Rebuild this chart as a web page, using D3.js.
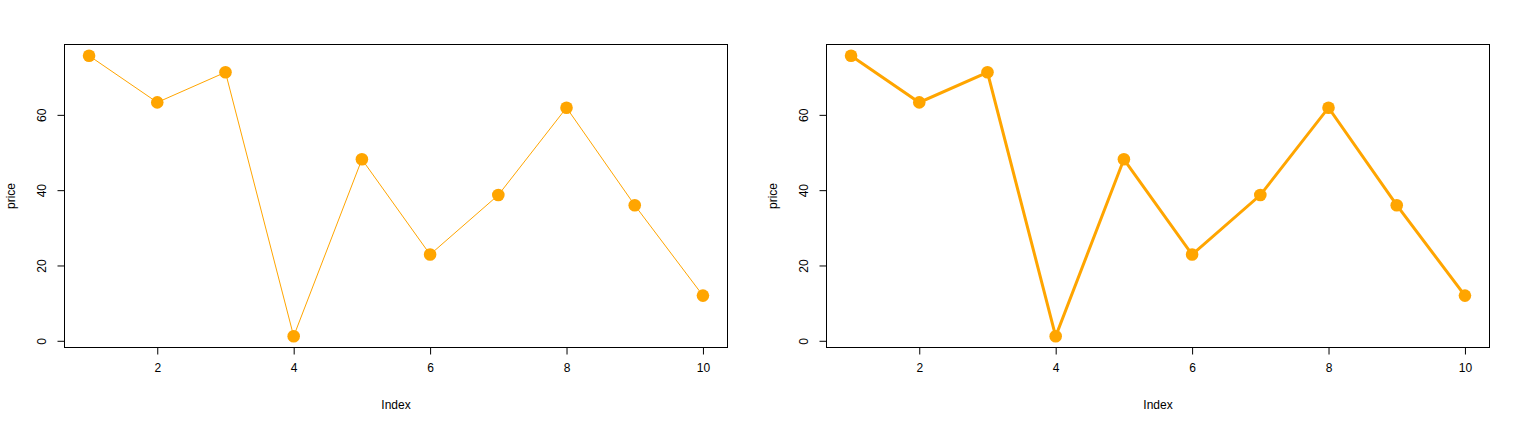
<!DOCTYPE html>
<html>
<head>
<meta charset="utf-8">
<script src="https://cdn.jsdelivr.net/npm/d3@7"></script>
<style>
  body { margin: 0; background: #fff; }
  text { font-family: "Liberation Sans", Arial, sans-serif; font-size: 12px; fill: #000; }
</style>
</head>
<body>
<div id="container"></div>
<script>
/* CONSTANTS AND GLOBALS */
const width = 1523;
const height = 448;

// data
const index = [1, 2, 3, 4, 5, 6, 7, 8, 9, 10];
const price = [75.7, 63.3, 71.3, 1.2, 48.2, 22.9, 38.7, 61.9, 36.0, 12.0];
const xTicks = [2, 4, 6, 8, 10];
const yTicks = [0, 20, 40, 60];

// two panels: thin line on left, thick line on right
const panels = [
  { left: 64.5, right: 727.5, lineWidth: 1 },
  { left: 826.5, right: 1489.5, lineWidth: 3 }
];
const plotTop = 44.5, plotBottom = 347.5;

const svg = d3.select("#container")
  .append("svg")
  .attr("width", width)
  .attr("height", height);

// R style 4% axis extension
function pad(ext) {
  const r = ext[1] - ext[0];
  return [ext[0] - 0.04 * r, ext[1] + 0.04 * r];
}

panels.forEach(p => {
  const g = svg.append("g");

  const xScale = d3.scaleLinear()
    .domain(pad(d3.extent(index)))
    .range([p.left, p.right]);

  const yScale = d3.scaleLinear()
    .domain(pad(d3.extent(price)))
    .range([plotBottom, plotTop]);

  // box
  g.append("rect")
    .attr("x", p.left).attr("y", plotTop)
    .attr("width", p.right - p.left).attr("height", plotBottom - plotTop)
    .attr("fill", "none").attr("stroke", "#000").attr("stroke-width", 1);

  // axes
  const xAxis = g.append("g")
    .attr("transform", `translate(0,${plotBottom})`)
    .call(d3.axisBottom(xScale).tickValues(xTicks).tickSize(7).tickPadding(9));
  xAxis.select(".domain").remove();

  const yAxis = g.append("g")
    .attr("transform", `translate(${p.left},0)`)
    .call(d3.axisLeft(yScale).tickValues(yTicks).tickSize(7));
  yAxis.select(".domain").remove();
  yAxis.selectAll(".tick text")
    .attr("x", 0).attr("dy", 0)
    .attr("text-anchor", "middle")
    .attr("transform", "translate(-19,0) rotate(-90)");

  g.selectAll(".tick line").attr("stroke", "#000");
  g.selectAll(".tick text")
    .attr("fill", "#000")
    .style("font-family", '"Liberation Sans", Arial, sans-serif')
    .style("font-size", "12px");

  // axis titles
  g.append("text")
    .attr("x", (p.left + p.right) / 2)
    .attr("y", 409)
    .attr("text-anchor", "middle")
    .text("Index");

  g.append("text")
    .attr("transform", `translate(${p.left - 50},${(plotTop + plotBottom) / 2}) rotate(-90)`)
    .attr("text-anchor", "middle")
    .text("price");

  // line
  const line = d3.line()
    .x((d, i) => xScale(index[i]))
    .y(d => yScale(d));

  g.append("path")
    .datum(price)
    .attr("d", line)
    .attr("fill", "none")
    .attr("stroke", "orange")
    .attr("stroke-width", p.lineWidth);

  // points
  g.selectAll(".pt")
    .data(price)
    .join("circle")
    .attr("class", "pt")
    .attr("cx", (d, i) => xScale(index[i]))
    .attr("cy", d => yScale(d))
    .attr("r", 6.3)
    .attr("fill", "orange");
});
</script>
</body>
</html>
